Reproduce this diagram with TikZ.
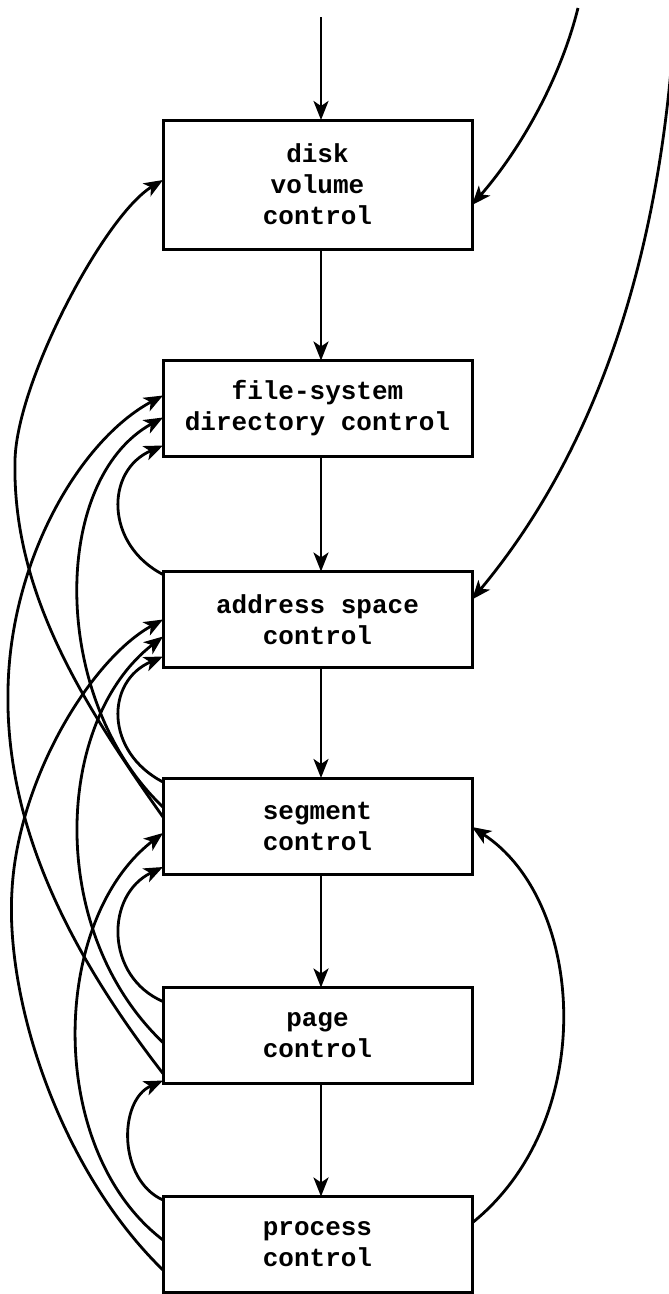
\documentclass[tikz,border=0pt]{standalone}
\usepackage{fontspec}
\setmonofont{Liberation Mono}
\usetikzlibrary{arrows.meta,calc}
\begin{document}
\begin{tikzpicture}[x=1pt,y=-1pt,
  box/.style={draw, line width=3pt, minimum width=309pt, minimum height=96pt,
    inner sep=2pt, outer sep=0pt, align=center,
    font=\fontsize{26}{31}\selectfont\ttfamily\bfseries},
  link/.style={line width=2.8pt, -{Stealth[length=19pt,width=15pt,inset=5pt]}},
]
\useasboundingbox (0,0) rectangle (669,1294);

\node[box, minimum height=129pt] (disk) at (317.5,184.5) {disk\\volume\\control};
\node[box] (fs)   at (317.5,408.5)  {file-system\\directory control};
\node[box] (addr) at (317.5,619.5)  {address space\\control};
\node[box] (seg)  at (317.5,826)    {segment\\control};
\node[box] (page) at (317.5,1035.5) {page\\control};
\node[box] (proc) at (317.5,1244.5) {process\\control};

\coordinate (topsrc) at (321,17);
\coordinate (srcA) at (578,8);
\coordinate (srcB) at (671,70);

% vertical chain
\draw[link] (topsrc) -- ([xshift=3.5pt]disk.north);
\draw[link] ([xshift=3.5pt]disk.south) -- ([xshift=3.5pt]fs.north);
\draw[link] ([xshift=3.5pt]fs.south) -- ([xshift=3.5pt]addr.north);
\draw[link] ([xshift=3.5pt]addr.south) -- ([xshift=3.5pt]seg.north);
\draw[link] ([xshift=3.5pt]seg.south) -- ([xshift=3.5pt]page.north);
\draw[link] ([xshift=3.5pt]page.south) -- ([xshift=3.5pt]proc.north);

% external inputs on the right
\draw[link] (srcA) .. controls (560,80) and (520,150) .. ($(disk.north east)+(0,85)$);
\draw[link] (srcB) .. controls (650,300) and (580,470) .. ($(addr.north east)+(0,28)$);

% process -> segment (right side)
\draw[link] ($(proc.north east)+(0,26.5)$) .. controls (600,1120) and (585,900) .. ($(seg.north east)+(0,49)$);

% short loops on the left
\draw[link] ($(addr.north west)+(0,3)$) .. controls +(-58,-30) and +(-58,25) .. ($(fs.north west)+(0,85)$);
\draw[link] ($(seg.north west)+(0,4)$) .. controls +(-58,-30) and +(-58,25) .. ($(addr.north west)+(0,85)$);
\draw[link] ($(page.north west)+(0,14)$) .. controls +(-58,-25) and +(-58,28) .. ($(seg.north west)+(0,89)$);
\draw[link] ($(proc.north west)+(0,3.5)$) .. controls +(-45,-20) and +(-45,20) .. ($(page.north west)+(0,93)$);

% long curves on the left
\draw[link] ($(seg.north west)+(0,39)$) .. controls (80,700) and (12,590) .. (15,460)
  .. controls (17,380) and (105,215) .. ($(disk.north west)+(0,60)$);
\draw[link] ($(seg.north west)+(0,29)$) .. controls (50,700) and (50,480) .. ($(fs.north west)+(0,57)$);
\draw[link] ($(page.north west)+(0,86)$) .. controls (75,960) and (5,830) .. (8,690)
  .. controls (10,560) and (80,440) .. ($(fs.north west)+(0,35)$);
\draw[link] ($(page.north west)+(0,55)$) .. controls (45,930) and (55,720) .. ($(addr.north west)+(0,65)$);
\draw[link] ($(proc.north west)+(0,73.5)$) .. controls (60,1170) and (5,1000) .. (12,890)
  .. controls (18,780) and (90,660) .. ($(addr.north west)+(0,48)$);
\draw[link] ($(proc.north west)+(0,43.5)$) .. controls (45,1150) and (50,920) .. ($(seg.north west)+(0,55)$);
\end{tikzpicture}
\end{document}
